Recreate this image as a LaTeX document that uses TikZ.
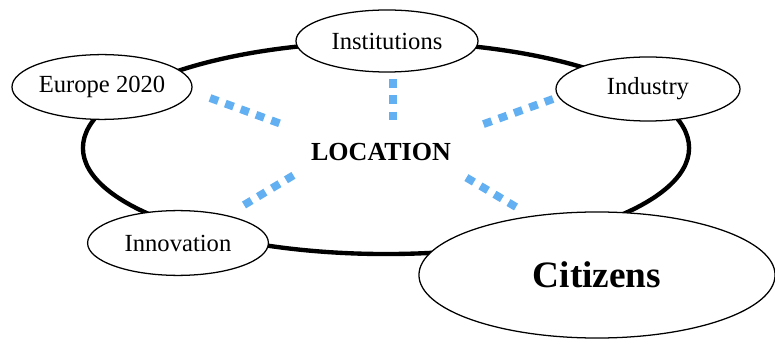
\documentclass[tikz,border=0pt]{standalone}
\usepackage{fontspec}
\setmainfont{Liberation Serif}
\usepackage{xcolor}
\usepackage{tikz}
\usetikzlibrary{shapes.geometric}
\definecolor{dashblue}{RGB}{98,176,242}
\tikzset{
	ring/.style = {
			ellipse,
			draw,
			line width = 3.1pt,
		},
	topic/.style = {
			ellipse,
			draw,
			fill       = white,
			line width = 0.9pt,
			inner sep  = 0pt,
			font       = \fontsize{17.5}{20}\selectfont,
		},
	link/.style = {draw=dashblue, line width=5.6pt, dash pattern=on 6.2pt off 5.4pt},
}

\begin{document}
\begin{tikzpicture}[x=0.025cm, y=-0.025cm]
        \useasboundingbox (0,0) rectangle (775,340);
        \node[ring, minimum width=15.15cm, minimum height=5.3cm] at (386,148) (rim) {};
        \node[font=\fontsize{18.5}{20}\selectfont\bfseries] at (381,152) (loc) {LOCATION};
        \node[topic, minimum width=4.55cm, minimum height=1.55cm] at (387,41) (inst) {Institutions};
        \node[topic, minimum width=4.5cm, minimum height=1.62cm] at (102,87) (eur) {Europe 2020};
        \node[topic, minimum width=4.6cm, minimum height=1.6cm] at (648,89) (ind) {Industry};
        \node[topic, minimum width=4.52cm, minimum height=1.62cm] at (178,243) (inn) {Innovation};
        \node[topic, minimum width=8.9cm, minimum height=3.15cm,
              font=\fontsize{26.5}{30}\selectfont\bfseries] at (597,275) (cit) {Citizens};
        % dotted links towards the centre
        \coordinate (eur1) at (210,98);  \coordinate (eur2) at (284,125);
        \coordinate (inst1) at (393,79); \coordinate (inst2) at (393,126);
        \coordinate (ind1) at (553,99);  \coordinate (ind2) at (481,125);
        \coordinate (inn1) at (244,205); \coordinate (inn2) at (299,172);
        \coordinate (cit1) at (516,207); \coordinate (cit2) at (462,175);
        \draw[link] (eur1) -- (eur2);
        \draw[link] (inst1) -- (inst2);
        \draw[link] (ind1) -- (ind2);
        \draw[link] (inn1) -- (inn2);
        \draw[link] (cit1) -- (cit2);
      \end{tikzpicture}
\end{document}
